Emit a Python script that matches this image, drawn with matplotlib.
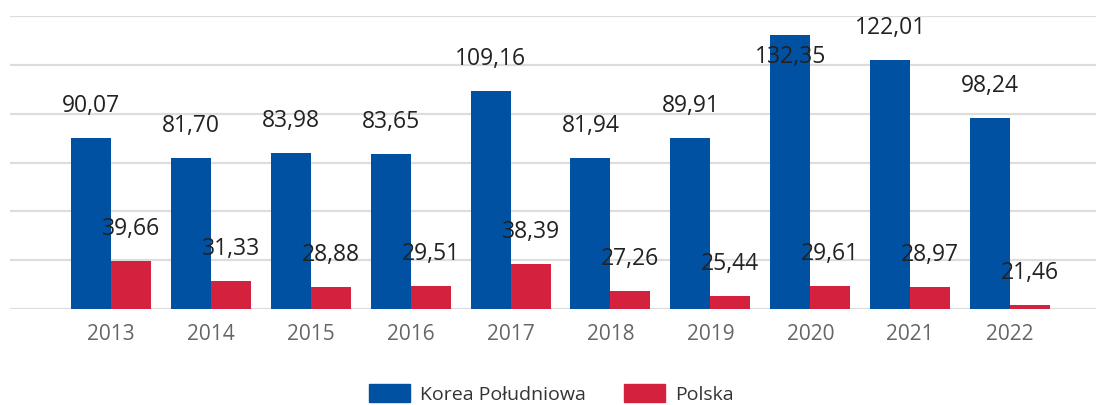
import numpy as np
import matplotlib.pyplot as plt
from matplotlib.patches import Patch

plt.rcParams['font.family'] = ['Open Sans', 'DejaVu Sans']

# data
years = ['2013', '2014', '2015', '2016', '2017', '2018', '2019', '2020', '2021', '2022']
korea = [90.07, 81.70, 83.98, 83.65, 109.16, 81.94, 89.91, 132.35, 122.01, 98.24]
polska = [39.66, 31.33, 28.88, 29.51, 38.39, 27.26, 25.44, 29.61, 28.97, 21.46]
series_names = ['Korea Południowa', 'Polska']

blue = '#0051a2'
red = '#d4213d'
y_base = 20
y_top = 140

def fmt(v):
    return f'{v:.2f}'.replace('.', ',')

def label_y(v):
    # label sits above the bar; if it would leave the plot it moves inside
    y = v + 13.1
    return y if y <= y_top else 123.3

fig = plt.figure(figsize=(10.96, 4.05), dpi=100)
ax = fig.add_axes([10 / 1096, 96 / 405, 1086 / 1096, 293 / 405])

x = np.arange(len(years))
w = 0.4
ax.bar(x - w / 2, np.array(korea) - y_base, w, bottom=y_base, color=blue, zorder=3)
ax.bar(x + w / 2, np.array(polska) - y_base, w, bottom=y_base, color=red, zorder=3)

for i in range(len(years)):
    ax.text(x[i] - w / 2, label_y(korea[i]), fmt(korea[i]),
            ha='center', va='center', fontsize=16.5, color='#222222', zorder=5)
    ax.text(x[i] + w / 2, label_y(polska[i]), fmt(polska[i]),
            ha='center', va='center', fontsize=16.5, color='#222222', zorder=5)

ax.set_xlim(-1.01, 9.86)
ax.set_ylim(y_base, y_top)
ax.set_yticks(np.arange(20, 141, 20))
ax.yaxis.grid(True, color='#dddddd', linewidth=1.6, zorder=0)
ax.tick_params(axis='y', left=False, labelleft=False)
ax.set_xticks(x)
ax.set_xticklabels(years, fontsize=15, color='#666666')
ax.tick_params(axis='x', length=0, pad=11)
for s in ax.spines.values():
    s.set_visible(False)

handles = [Patch(color=blue), Patch(color=red)]
fig.legend(handles, series_names, loc='center', bbox_to_anchor=(0.503, 0.027),
           ncol=2, frameon=False, fontsize=14, handlelength=2.1, handleheight=1.0,
           handletextpad=0.5, columnspacing=2.0, labelcolor='#333333')

fig.savefig('out.png', dpi=100)
